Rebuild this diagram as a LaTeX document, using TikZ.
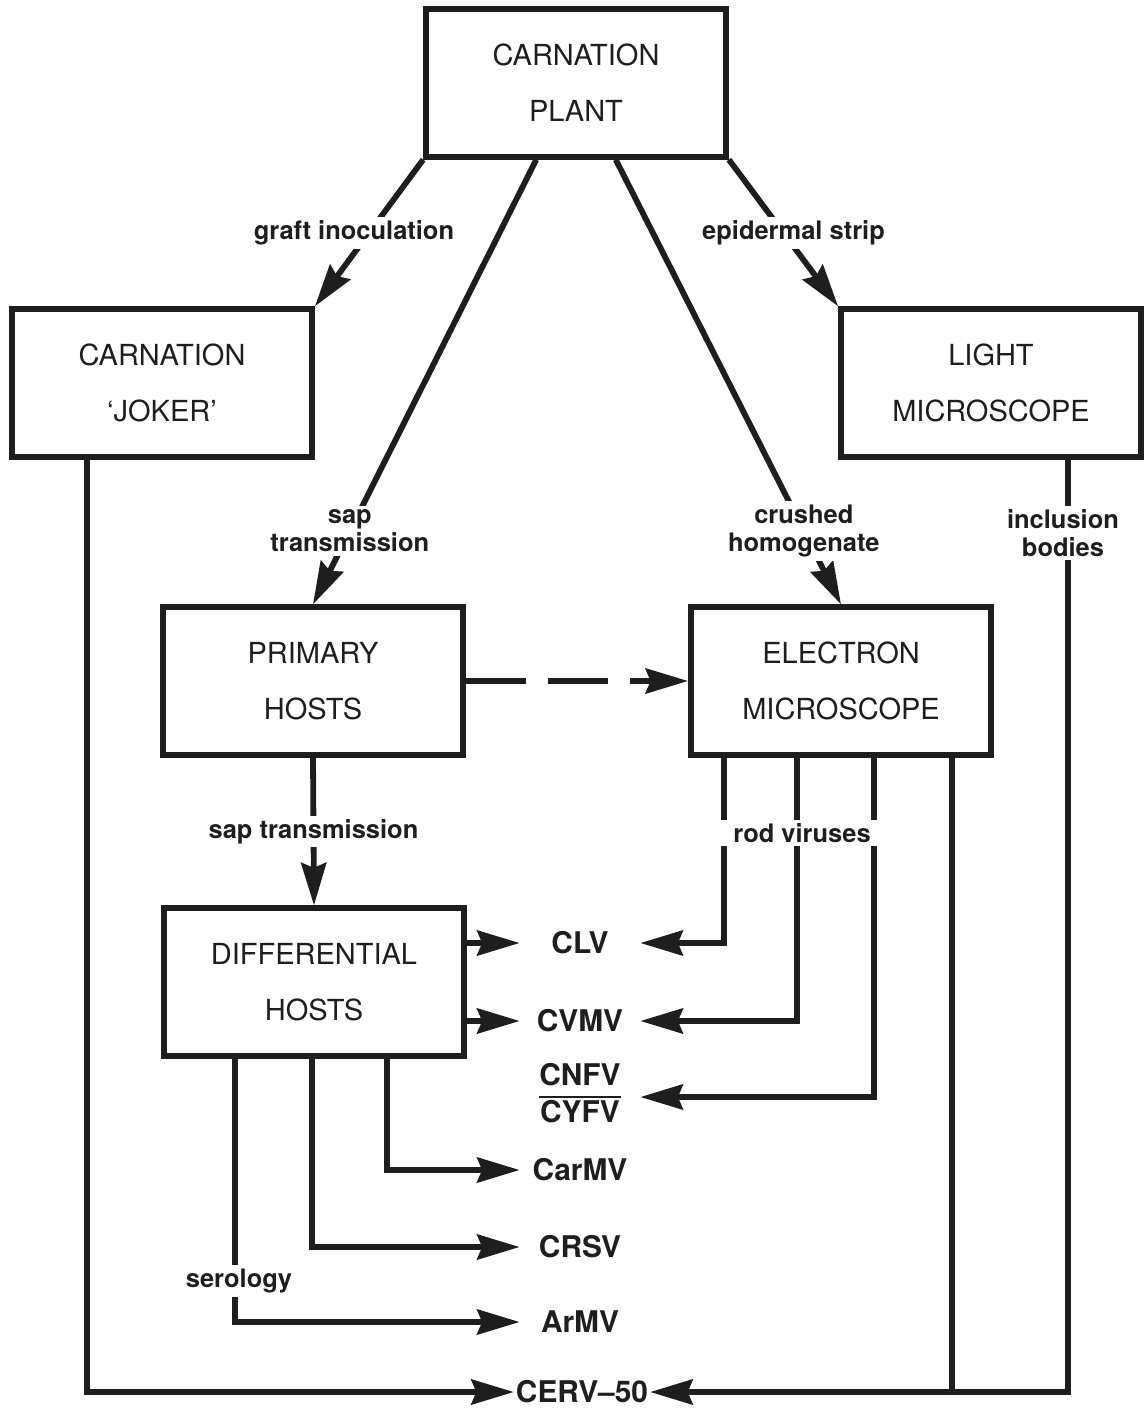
\documentclass[tikz,border=0pt]{standalone}
\usepackage{fontspec}
\setmainfont{TeX Gyre Heros}
\definecolor{cInk}{HTML}{1E1E1E}
\usepackage{xcolor}
\usepackage{tikz}
\usetikzlibrary{positioning,arrows.meta,calc}
\newcommand{\cbox}[4]{%
 \node[draw=cInk, line width=3.3pt, minimum width=6cm, minimum height=2.95cm, align=center, font=\fontsize{16.5}{32}\selectfont, text=cInk] (#3) at (#1,#2) {#4};}
\tikzset{
 cline/.style={draw=cInk, line width=3.3pt},
 carr/.style={cline, -{Stealth[length=0.85cm, width=0.5cm, inset=0.1cm]}},
 clbl/.style={fill=white, text=cInk, align=center, inner xsep=3pt, inner ysep=2pt, font=\bfseries\fontsize{14.5}{16}\selectfont},
 cvir/.style={text=cInk, minimum width=2.4cm, inner sep=0pt, font=\bfseries\fontsize{17}{20}\selectfont}
}

\begin{document}
\begin{tikzpicture}[x={(0.02cm,0)}, y={(0,-0.02cm)}]
\useasboundingbox (0,0) rectangle (1143,1412);
\cbox{576}{83}{plant}{CARNATION\\PLANT}
\cbox{162}{383}{joker}{CARNATION\\‘JOKER’}
\cbox{991}{383}{light}{LIGHT\\MICROSCOPE}
\cbox{313}{681}{primary}{PRIMARY\\HOSTS}
\cbox{841}{681}{electron}{ELECTRON\\MICROSCOPE}
\cbox{314}{982}{diff}{DIFFERENTIAL\\HOSTS}
% viruses
\node[cvir] (clv) at (580,943) {CLV};
\node[cvir] (cvmv) at (580,1021) {CVMV};
\node[cvir] (cnfv) at (580,1097) {\setlength{\arrayrulewidth}{1.5pt}\begin{tabular}{@{}c@{}}CNFV\\\hline CYFV\end{tabular}};
\node[cvir] (carmv) at (580,1170) {CarMV};
\node[cvir] (crsv) at (580,1247) {CRSV};
\node[cvir] (armv) at (580,1322) {ArMV};
\node[cvir, minimum width=0pt, inner xsep=1pt] (cerv) at (582,1392) {CERV–50};
% plant
\draw[carr] (plant.south west) -- node[clbl, xshift=-0.3cm]{graft inoculation} (joker.north east);
\draw[carr] (plant.south east) -- node[clbl, xshift=0.2cm]{epidermal strip} (light.north west);
\draw[carr] ($(plant.south west)!0.37!(plant.south east)$) -- node[clbl, pos=0.835]{sap\\transmission} (primary.north);
\draw[carr] ($(plant.south west)!0.63!(plant.south east)$) -- node[clbl, pos=0.835]{crushed\\homogenate} (electron.north);
% to CERV-50
\coordinate (jk) at ($(joker.south west)+(78,0)$);
\coordinate (lm) at ($(light.south east)+(-76,0)$);
\coordinate (em4) at ($(electron.south west)+(264,0)$);
\draw[carr] (jk) |- (cerv.west);
\draw[carr] (lm) |- (cerv.east);
\draw[cline] (em4) -- (em4 |- cerv);
\node[clbl] (inclbl) at (1063,533) {inclusion\\bodies};
% primary hosts
\draw[carr, dash pattern=on 1.2cm off 0.44cm] (primary.east) -- (electron.west);
\draw[carr] (primary.south) -- node[clbl]{sap transmission} (diff.north);
% rod viruses
\coordinate (rv1) at ($(electron.south west)+(36,0)$);
\coordinate (rv2) at ($(electron.south west)+(109,0)$);
\coordinate (rv3) at ($(electron.south west)+(186,0)$);
\draw[carr] (rv1) |- (clv.east);
\draw[carr] (rv2) |- (cvmv.east);
\draw[carr] (rv3) |- (cnfv.east);
\node[clbl, inner xsep=0.4cm] (rodlbl) at (802,833) {rod viruses};
% differential hosts
\draw[carr] (diff.east |- clv) -- (clv.west);
\draw[carr] (diff.east |- cvmv) -- (cvmv.west);
\coordinate (dh1) at ($(diff.south west)+(226,0)$);
\coordinate (dh2) at ($(diff.south west)+(151,0)$);
\coordinate (dh3) at ($(diff.south west)+(74,0)$);
\draw[carr] (dh1) |- (carmv.west);
\draw[carr] (dh2) |- (crsv.west);
\draw[carr] (dh3) |- (armv.west);
\node[clbl] (serlbl) at (239,1281) {serology};
\end{tikzpicture}
\end{document}
